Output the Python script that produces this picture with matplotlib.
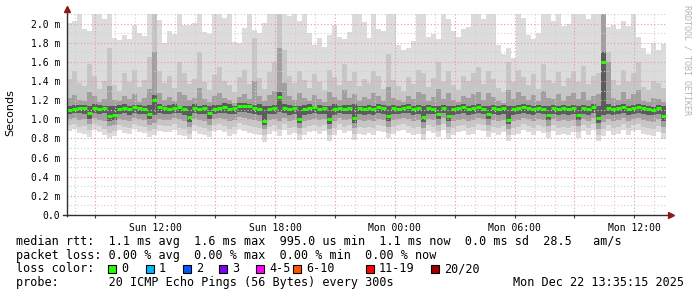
import matplotlib
matplotlib.use('Agg')
import matplotlib.pyplot as plt
import matplotlib.dates as mdates
from matplotlib.lines import Line2D
from matplotlib.patches import Rectangle
import numpy as np
from datetime import datetime, timedelta

# Smoke data, one sample every 15 minutes, values in 1/100 ms
median = [110,111,112,112,107,112,111,112,103,105, 111,112,111,113,112,111,106,120,113,112,
          111,112,113,111,102,112,111,112,107,111, 112,113,111,112,114,114,114,112,111,98,
          111,112,123,112,111,112,100,111,112,113, 111,112,100,111,112,111,112,101,112,111,
          112,111,113,112,103,112,111,112,113,111, 112,102,112,111,106,112,103,111,112,113,
          111,112,113,111,106,112,111,112,99,111, 112,113,112,111,112,111,104,112,111,112,
          111,112,104,112,111,113,101,160,112,111, 112,113,111,112,113,112,111,110,112,103]

top = [201,203,210,194,192,210,210,205,210,185, 183,188,184,199,190,187,210,210,204,180,
       192,189,210,199,198,201,210,191,189,210, 210,206,210,181,180,195,210,193,190,201,
       210,210,210,210,208,210,203,210,190,178, 185,176,188,199,186,184,191,210,210,202,
       185,210,194,192,210,210,178,172,175,182, 210,210,186,189,184,210,205,192,186,194,
       196,210,210,205,210,210,178,168,175,164, 210,206,188,184,190,210,210,203,210,197,
       200,210,210,210,205,210,210,210,196,199, 194,203,197,210,186,175,168,180,172,179]

hi2 = [142,150,138,135,158,145,132,140,175,136, 130,148,139,152,134,141,165,210,150,138,
       145,133,160,148,137,142,170,139,131,146, 155,140,136,128,144,151,137,185,143,132,
       149,160,210,172,145,138,150,141,133,147, 139,131,152,144,136,158,140,149,135,142,
       138,150,145,132,168,141,135,130,144,137, 152,148,134,143,160,139,150,136,131,145,
       140,148,155,137,150,142,133,128,160,139, 151,144,136,147,132,158,141,138,149,135,
       143,150,139,156,137,145,148,210,170,141, 136,152,139,148,160,134,131,140,138,133]

hi3 = [122,125,120,119,128,124,118,121,135,120, 119,124,121,126,118,122,132,170,127,120,
       123,119,128,125,120,122,133,121,118,124, 127,122,120,117,123,126,121,140,124,119,
       125,130,175,138,124,120,127,122,119,125, 121,118,128,123,120,131,122,126,119,123,
       121,127,124,119,134,122,120,118,124,121, 128,126,119,123,132,121,127,120,118,124,
       122,126,129,120,127,123,119,117,131,121, 128,124,120,125,119,130,122,121,126,119,
       124,127,121,129,120,124,126,210,160,122, 120,128,121,126,131,119,118,122,121,118]

hi4 = [114,115,115,115,114,116,115,114,114,114, 115,116,114,115,115,114,115,125,116,114,
       115,116,114,114,114,116,114,115,114,115, 115,117,116,114,117,117,116,115,116,114,
       114,115,128,116,115,114,114,115,116,114, 115,114,114,116,114,115,115,116,114,114,
       115,114,116,115,114,115,114,115,116,114, 115,114,115,114,114,115,114,114,115,116,
       114,115,116,114,114,115,114,115,114,114, 115,116,115,114,115,114,114,115,114,115,
       114,115,114,115,114,116,114,170,116,114, 115,116,114,115,116,115,114,113,115,114]

lo4 = [106,107,107,106,100,107,106,107,98,99, 106,107,105,107,106,106,100,104,107,106,
       106,107,107,105,97,107,106,106,100,106, 107,107,106,106,108,108,107,106,105,94,
       106,106,108,107,105,106,96,105,106,107, 106,106,95,105,107,106,106,96,106,105,
       106,105,107,106,98,106,106,107,107,105, 106,97,106,106,100,107,98,105,106,107,
       105,106,107,106,100,106,105,106,95,105, 106,107,106,105,107,106,99,106,105,106,
       105,106,99,106,105,107,96,104,106,105, 106,107,105,106,107,106,105,104,106,98]

lo3 = [100,101,99,100,95,101,99,98,93,94, 100,99,98,101,100,99,94,96,100,99,
       99,101,100,98,92,100,99,98,94,100, 101,100,98,99,102,101,100,99,98,90,
       99,100,98,101,98,99,91,98,99,100, 99,100,90,98,101,99,100,91,99,98,
       99,98,100,99,92,99,100,101,100,98, 99,91,100,99,94,101,92,98,99,100,
       98,99,101,100,94,99,98,99,90,98, 99,101,100,98,100,99,93,100,98,99,
       98,99,93,100,98,101,90,97,100,98, 99,101,98,100,101,99,98,97,100,92]

lo2 = [94,95,92,93,89,95,93,90,86,88, 94,92,91,95,93,92,88,90,94,93,
       93,95,91,90,85,94,92,91,88,94, 95,93,90,92,96,94,93,92,91,84,
       92,94,90,95,91,92,85,91,93,94, 92,94,84,91,95,92,94,85,92,91,
       92,91,94,93,86,92,94,95,93,91, 92,85,94,92,88,95,86,91,93,94,
       91,92,95,94,88,92,91,93,84,91, 92,95,93,91,94,92,87,94,91,92,
       91,93,87,94,91,95,84,90,94,91, 92,95,91,94,95,92,91,90,93,86]

lo1 = [88,90,86,85,82,89,87,84,80,83, 89,86,85,90,87,86,82,84,88,87,
       87,89,84,83,79,88,85,84,82,88, 89,87,83,85,90,88,86,85,84,76,
       85,88,83,89,84,86,78,84,87,88, 85,88,77,84,89,86,88,78,85,84,
       86,84,88,87,80,85,88,89,86,84, 85,78,88,86,81,89,79,84,87,88,
       84,85,89,88,81,86,84,87,77,84, 85,89,87,84,88,86,80,88,84,85,
       84,87,80,88,84,89,77,83,88,84, 85,89,84,88,89,85,84,83,87,79]

loss_labels = ['0', '1', '2', '3', '4-5', '6-10', '11-19', '20/20']
loss_colors = ['#26ff00', '#00b8ff', '#0059ff', '#7e00ff', '#ff00ff', '#ff5500', '#ff0000', '#a10000']

start = datetime(2025, 12, 21, 7, 35)
end = datetime(2025, 12, 22, 13, 35)
step_min = 15

W, H = 697, 297
mono = 'DejaVu Sans Mono'

times = [start + timedelta(minutes=step_min * i) for i in range(len(median))]
x = mdates.date2num(times)
w = step_min / 1440.0
ms = lambda a: np.array(a) / 100.0

fig = plt.figure(figsize=(W / 100, H / 100), dpi=100)
fig.patch.set_facecolor('white')
ax = fig.add_axes([67 / W, 1 - 215 / H, (666 - 67) / W, (215 - 14) / H])

# smoke bands, outer to inner
bands = [(lo1, top, '#dcdcdc'), (lo2, hi2, '#c6c6c6'), (lo3, hi3, '#a0a0a0'), (lo4, hi4, '#5c5c5c')]
for lo, hi, col in bands:
    ax.bar(x, ms(hi) - ms(lo), bottom=ms(lo), width=w, align='edge', color=col, linewidth=0, zorder=1)

# grid on top of the smoke
t = start.replace(minute=0) + timedelta(hours=1)
while t < end:
    red = t.hour % 3 == 0
    ax.axvline(mdates.date2num(t), color='#e89a9a' if red else '#cfcfcf', ls=(0, (1, 2)), lw=0.8, zorder=2)
    t += timedelta(hours=1)
for k in range(1, 22):
    red = k % 2 == 0
    ax.axhline(k / 10, color='#e89a9a' if red else '#cfcfcf', ls=(0, (1, 2)), lw=0.8, zorder=2)

# median
ax.hlines(ms(median), x, x + w, color=loss_colors[0], lw=2.2, zorder=3)

ax.set_xlim(mdates.date2num(start), mdates.date2num(end))
ax.set_ylim(0, 2.1)
ax.set_facecolor('white')
for s in ax.spines.values():
    s.set_visible(False)

ax.xaxis.set_major_locator(mdates.HourLocator(byhour=[0, 6, 12, 18]))
ax.xaxis.set_major_formatter(mdates.DateFormatter('%a %H:%M'))
ax.xaxis.set_minor_locator(mdates.HourLocator(byhour=[3, 9, 15, 21]))
ax.set_yticks(np.arange(0, 2.01, 0.2))
ax.set_yticklabels(['0.0'] + ['%.1f m' % v for v in np.arange(0.2, 2.01, 0.2)])
ax.tick_params(axis='x', which='both', length=2, width=0.8, color='#404040', pad=4, labelsize=7)
ax.tick_params(axis='y', length=0, pad=5, labelsize=7)
for lab in ax.get_xticklabels() + ax.get_yticklabels():
    lab.set_family(mono)

# axes with arrows
fig.add_artist(Line2D([67 / W, 67 / W], [1 - 216 / H, 1 - 10 / H], color='#303030', lw=1))
fig.add_artist(Line2D([63 / W, 670 / W], [1 - 215 / H, 1 - 215 / H], color='#303030', lw=1))
fig.add_artist(Line2D([67 / W], [1 - 9 / H], marker='^', color='#8b1a1a', markersize=4, lw=0))
fig.add_artist(Line2D([671 / W], [1 - 215 / H], marker='>', color='#8b1a1a', markersize=4, lw=0))

fig.text(10 / W, 1 - 113 / H, 'Seconds', rotation=90, ha='center', va='center', fontsize=8)
fig.text(687 / W, 1 - 5 / H, 'RRDTOOL / TOBI OETIKER', rotation=-90, ha='center', va='top',
         fontsize=6, family=mono, color='#b4b4b4')

# legend
fs = 8.5
fig.text(16 / W, 1 - 241 / H,
         'median rtt:  1.1 ms avg  1.6 ms max  995.0 us min  1.1 ms now  0.0 ms sd  28.5   am/s',
         family=mono, fontsize=fs, va='center')
fig.text(16 / W, 1 - 255 / H,
         'packet loss: 0.00 % avg  0.00 % max  0.00 % min  0.00 % now',
         family=mono, fontsize=fs, va='center')
fig.text(16 / W, 1 - 268.5 / H, 'loss color:', family=mono, fontsize=fs, va='center')
sq_x = [108, 146, 183, 219, 256, 293, 366, 431]
for sx, lab, col in zip(sq_x, loss_labels, loss_colors):
    fig.add_artist(Rectangle((sx / W, 1 - 272.5 / H), 8 / W, 8 / H, facecolor=col,
                             edgecolor='black', lw=0.8, transform=fig.transFigure))
    fig.text((sx + 13) / W, 1 - 268.5 / H, lab, family=mono, fontsize=fs, va='center')
fig.text(16 / W, 1 - 282.5 / H, 'probe:       20 ICMP Echo Pings (56 Bytes) every 300s',
         family=mono, fontsize=fs, va='center')
fig.text(513 / W, 1 - 282.5 / H, 'Mon Dec 22 13:35:15 2025', family=mono, fontsize=fs, va='center')

fig.savefig('out.png', dpi=100)
